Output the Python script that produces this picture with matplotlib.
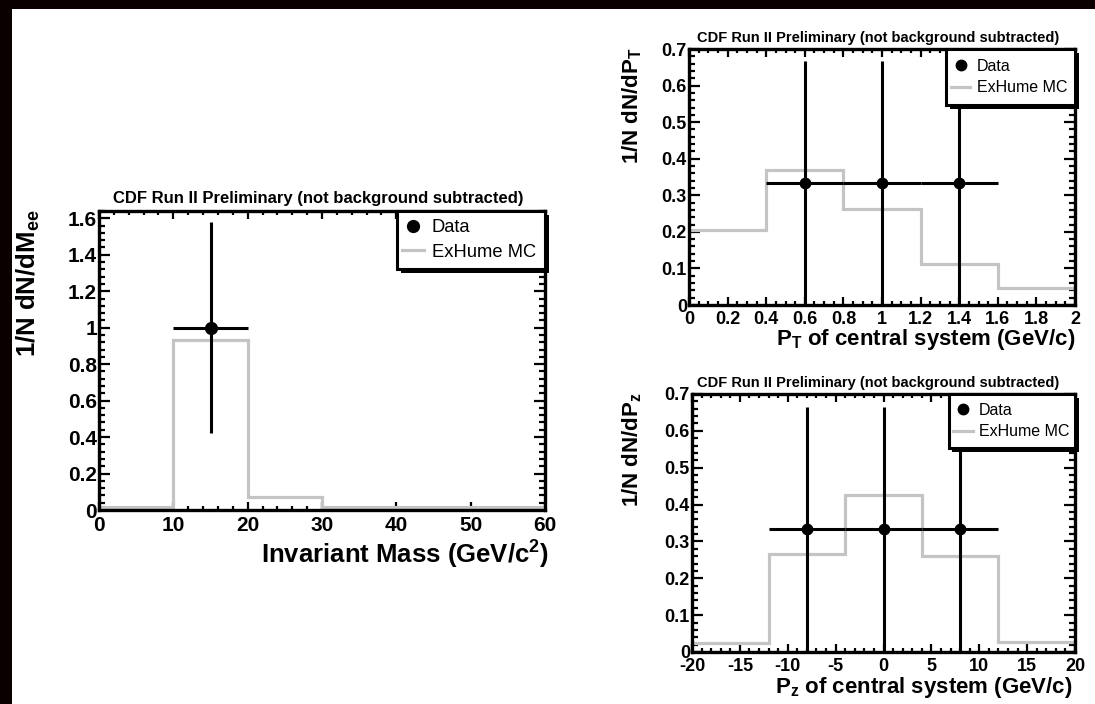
import matplotlib
matplotlib.use("Agg")
import matplotlib.pyplot as plt
from matplotlib.patches import Rectangle
from matplotlib.ticker import MultipleLocator, FuncFormatter

plt.rcParams['font.family'] = ['Liberation Sans', 'DejaVu Sans']
plt.rcParams['mathtext.fontset'] = 'custom'
plt.rcParams['mathtext.rm'] = 'Liberation Sans'
plt.rcParams['mathtext.bf'] = 'Liberation Sans:bold'

TITLE = "CDF Run II Preliminary (not background subtracted)"

# invariant mass panel
mass_edges = [0, 10, 20, 30, 40, 50, 60]
mass_mc = [0.015, 0.935, 0.07, 0.015, 0.015, 0.015]
mass_x = [15]
mass_y = [1.0]
mass_xerr = [5]
mass_yerr = [0.577]

# pt panel
pt_edges = [0, 0.4, 0.8, 1.2, 1.6, 2.0]
pt_mc = [0.205, 0.37, 0.262, 0.113, 0.047]
pt_x = [0.6, 1.0, 1.4]
pt_y = [0.333, 0.333, 0.333]
pt_xerr = [0.2, 0.2, 0.2]
pt_yerr = [0.333, 0.333, 0.333]

# pz panel
pz_edges = [-20, -12, -4, 4, 12, 20]
pz_mc = [0.025, 0.266, 0.425, 0.26, 0.028]
pz_x = [-8, 0, 8]
pz_y = [0.333, 0.333, 0.333]
pz_xerr = [4, 4, 4]
pz_yerr = [0.333, 0.333, 0.333]

W, H = 1095, 704
GREY = '#c4c4c4'


def fx(px):
    return px / W


def fy(py):
    return 1 - py / H


def make_axes(fig, l, r, t, b):
    return fig.add_axes([fx(l), fy(b), fx(r) - fx(l), fy(t) - fy(b)])


def fmt(v, pos):
    return '%g' % round(v, 6)


def panel(ax, edges, mc, x, y, xerr, yerr, xlim, ylim, xmaj, xmin, ymaj, ymin, fs, ms):
    ax.stairs(mc, edges, baseline=None, color=GREY, lw=2.3, zorder=2)
    eb = ax.errorbar(x, y, xerr=xerr, yerr=yerr, fmt='o', color='black', ms=ms,
                     elinewidth=2.2, capsize=0, zorder=3)
    ax.set_xlim(xlim)
    ax.set_ylim(ylim)
    ax.xaxis.set_major_locator(MultipleLocator(xmaj))
    ax.xaxis.set_minor_locator(MultipleLocator(xmin))
    ax.yaxis.set_major_locator(MultipleLocator(ymaj))
    ax.yaxis.set_minor_locator(MultipleLocator(ymin))
    ax.xaxis.set_major_formatter(FuncFormatter(fmt))
    ax.yaxis.set_major_formatter(FuncFormatter(fmt))
    ax.tick_params(which='both', direction='in', top=True, right=True, width=1.6)
    ax.tick_params(axis='y', which='major', length=8, pad=1.5)
    ax.tick_params(axis='y', which='minor', length=4)
    ax.tick_params(axis='x', which='major', length=6, pad=4)
    ax.tick_params(axis='x', which='minor', length=3)
    ax.tick_params(which='major', labelsize=fs)
    for lab in ax.get_xticklabels() + ax.get_yticklabels():
        lab.set_fontweight('bold')
        lab.set_fontsize(fs)
    for sp in ax.spines.values():
        sp.set_linewidth(2.4)
        sp.set_zorder(4)
    return eb


def legend_box(ax, handles, x0, y0, fs, hl, sx, sy):
    ax.add_patch(Rectangle((x0 + sx, y0 - sy), 1 - x0, 1 - y0, transform=ax.transAxes,
                           facecolor='black', edgecolor='none', clip_on=False, zorder=5))
    ax.add_patch(Rectangle((x0, y0), 1 - x0, 1 - y0, transform=ax.transAxes,
                           facecolor='white', edgecolor='black', lw=2.2, clip_on=False,
                           zorder=6))
    leg = ax.legend(handles, ['Data', 'ExHume MC'], loc='center left',
                    bbox_to_anchor=(x0, (1 + y0) / 2), frameon=False, fontsize=fs,
                    borderaxespad=0, borderpad=0.3, handlelength=hl,
                    handletextpad=0.4, labelspacing=0.4)
    leg.set_zorder(7)


fig = plt.figure(figsize=(W / 100, H / 100), dpi=100, facecolor='#0a0000')
fig.patches.append(Rectangle((fx(12), 0), 1 - fx(12), fy(9), transform=fig.transFigure,
                             facecolor='white', edgecolor='none', zorder=-10))

# left panel
ax1 = make_axes(fig, 99, 545, 211, 510)
eb1 = panel(ax1, mass_edges, mass_mc, mass_x, mass_y, mass_xerr, mass_yerr,
            (0, 60), (0, 1.64), 10, 2, 0.2, 0.04, 15, 8.5)
mc1 = ax1.patches[0]
legend_box(ax1, [eb1[0], mc1], 0.668, 0.806, 13.2, 1.2, 0.009, 0.014)
fig.text(fx(318), fy(199), TITLE, ha='center', va='center', fontsize=12, fontweight='bold')
fig.text(fx(549), fy(554), r'Invariant Mass (GeV/c$^{\mathbf{2}}$)', ha='right', va='center',
         fontsize=18.5, fontweight='bold')
fig.text(fx(28), fy(209), r'1/N dN/dM$_{\mathbf{ee}}$', ha='center', va='top', rotation=90,
         fontsize=18.5, fontweight='bold')

# top right panel
ax2 = make_axes(fig, 689, 1075, 49, 305)
eb2 = panel(ax2, pt_edges, pt_mc, pt_x, pt_y, pt_xerr, pt_yerr,
            (0, 2), (0, 0.7), 0.2, 0.05, 0.1, 0.02, 13, 7.5)
mc2 = ax2.patches[0]
legend_box(ax2, [eb2[0], mc2], 0.667, 0.78, 11.5, 1.2, 0.01, 0.016)
fig.text(fx(878), fy(38), TITLE, ha='center', va='center', fontsize=10.5, fontweight='bold')
fig.text(fx(1075), fy(340), r'P$_{\mathbf{T}}$ of central system (GeV/c)', ha='right',
         va='center', fontsize=16, fontweight='bold')
fig.text(fx(632), fy(47), r'1/N dN/dP$_{\mathbf{T}}$', ha='center', va='top', rotation=90,
         fontsize=16, fontweight='bold')

# bottom right panel
ax3 = make_axes(fig, 692, 1075, 394, 652)
eb3 = panel(ax3, pz_edges, pz_mc, pz_x, pz_y, pz_xerr, pz_yerr,
            (-20, 20), (0, 0.7), 5, 1, 0.1, 0.02, 13, 7.5)
mc3 = ax3.patches[0]
legend_box(ax3, [eb3[0], mc3], 0.67, 0.79, 11.5, 1.2, 0.01, 0.016)
fig.text(fx(878), fy(383), TITLE, ha='center', va='center', fontsize=10.5, fontweight='bold')
fig.text(fx(1073), fy(688), r'P$_{\mathbf{z}}$ of central system (GeV/c)', ha='right',
         va='center', fontsize=16, fontweight='bold')
fig.text(fx(632), fy(392), r'1/N dN/dP$_{\mathbf{z}}$', ha='center', va='top', rotation=90,
         fontsize=16, fontweight='bold')

fig.savefig('out.png', dpi=100, facecolor=fig.get_facecolor())
